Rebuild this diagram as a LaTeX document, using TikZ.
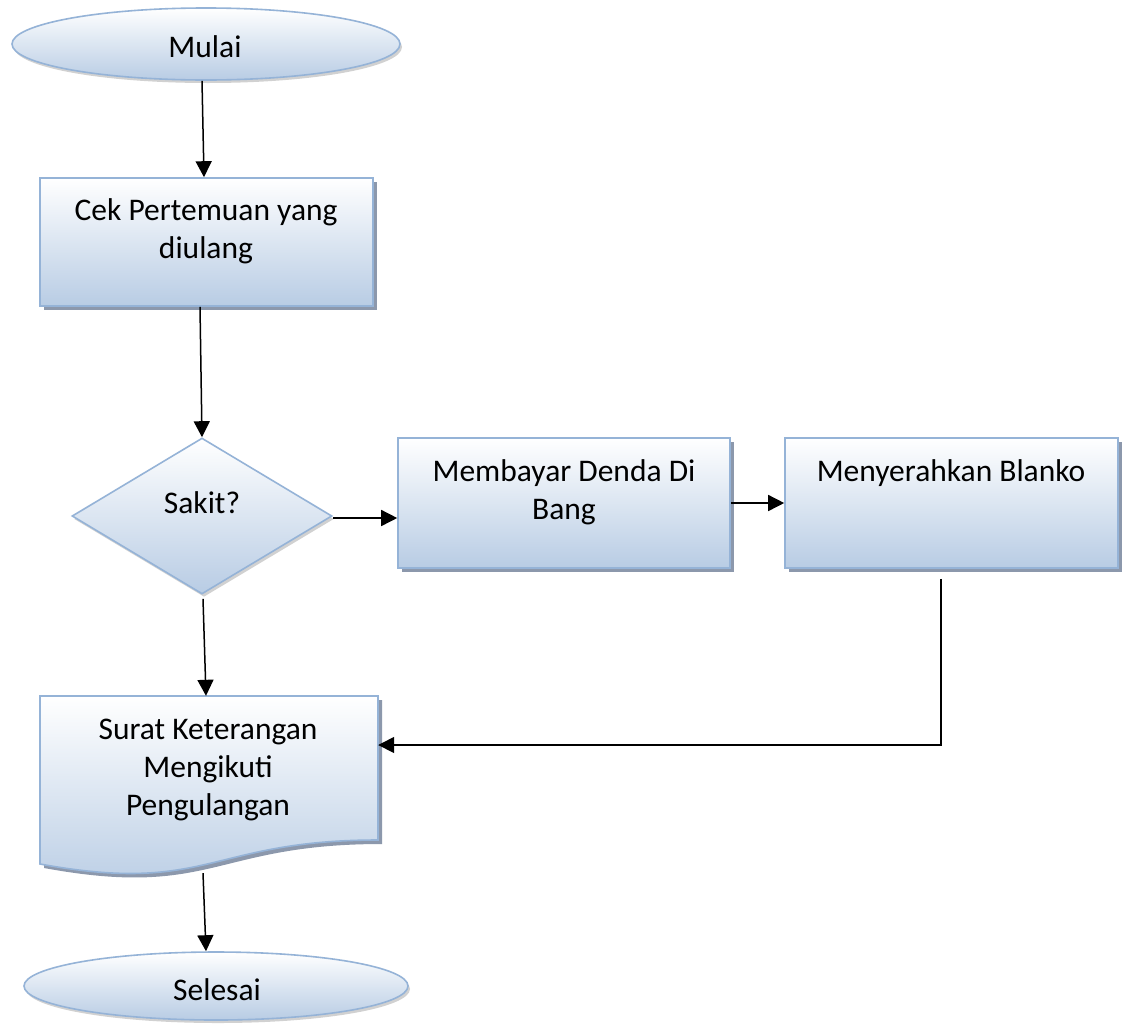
\documentclass[tikz,border=0pt]{standalone}
\usepackage{fontspec}
\setmainfont{Carlito}
\usetikzlibrary{shapes.geometric,arrows.meta,shadows}
\definecolor{bord}{RGB}{149,179,215}
\definecolor{fillb}{RGB}{184,204,228}
\definecolor{shad}{RGB}{140,152,172}
\begin{document}
\begin{tikzpicture}[x=1pt,y=-1pt,
  shp/.style={draw=bord, line width=1.6pt, top color=white, bottom color=fillb, inner sep=0pt},
  boxsh/.style={drop shadow={shadow xshift=4pt,shadow yshift=-4pt,fill=shad,opacity=1}},
  softsh/.style={drop shadow={shadow xshift=2pt,shadow yshift=-3pt,fill=black,opacity=0.18}},
  txt/.style={anchor=base, align=center, font=\fontsize{31.5}{38}\selectfont, inner sep=0pt},
  arr/.style={line width=1.5pt, -{Triangle[length=16pt,width=16pt]}}]
\useasboundingbox[fill=white] (0,0) rectangle (1126,1023);

% shapes
\node[shp, softsh, ellipse, minimum width=388pt, minimum height=72pt] (mulai) at (206,44) {};
\node[shp, boxsh, rectangle, minimum width=333pt, minimum height=128pt] (b1) at (206.5,242) {};
\node[shp, softsh, diamond, shape aspect=1.667, minimum width=260pt, minimum height=156pt] (sakit) at (202,516) {};
\node[shp, boxsh, rectangle, minimum width=332pt, minimum height=130pt] (b2) at (564,503) {};
\node[shp, boxsh, rectangle, minimum width=333pt, minimum height=130pt] (b3) at (951.5,503) {};
\node[rectangle, minimum width=338pt, minimum height=180pt, inner sep=0pt] (doc) at (209,786) {};
\path[shp, boxsh] (40,696) -- (378,696) -- (378,840) .. controls (209,840) and (209,895) .. (40,864) -- cycle;
\node[shp, softsh, ellipse, minimum width=384pt, minimum height=68pt] (selesai) at (216,986) {};

% texts (base anchor = baseline of the last line)
\node[txt] (tmulai) at (205,57) {Mulai};
\node[txt] (tb1) at (206,258) {Cek Pertemuan yang\\diulang};
\node[txt] (tsakit) at (202,513) {Sakit?};
\node[txt] (tb2) at (564,519) {Membayar Denda Di\\Bang};
\node[txt] (tb3) at (951,481) {Menyerahkan Blanko};
\node[txt] (tdoc) at (208,815) {Surat Keterangan\\Mengikuti\\Pengulangan};
\node[txt] (tselesai) at (217,1000) {Selesai};

% connectors
\draw[arr] ([xshift=-4pt]mulai.south) -- ([xshift=-2.5pt]b1.north);
\draw[arr] ([xshift=-6.5pt]b1.south) -- (sakit.north);
\draw[arr] ([yshift=-2pt]sakit.east) -- ([yshift=-2pt]sakit.east -| b2.west);
\draw[arr] (b2.east) -- (b3.west);
\draw[arr] ([xshift=-10.5pt,yshift=-10pt]b3.south) |- ([yshift=41pt]doc.east);
\draw[arr] ([xshift=1pt,yshift=-4pt]sakit.south) -- ([xshift=-3pt]doc.north);
\draw[arr] ([xshift=-6pt,yshift=3pt]doc.south) -- ([xshift=-10pt]selesai.north);
\end{tikzpicture}
\end{document}
